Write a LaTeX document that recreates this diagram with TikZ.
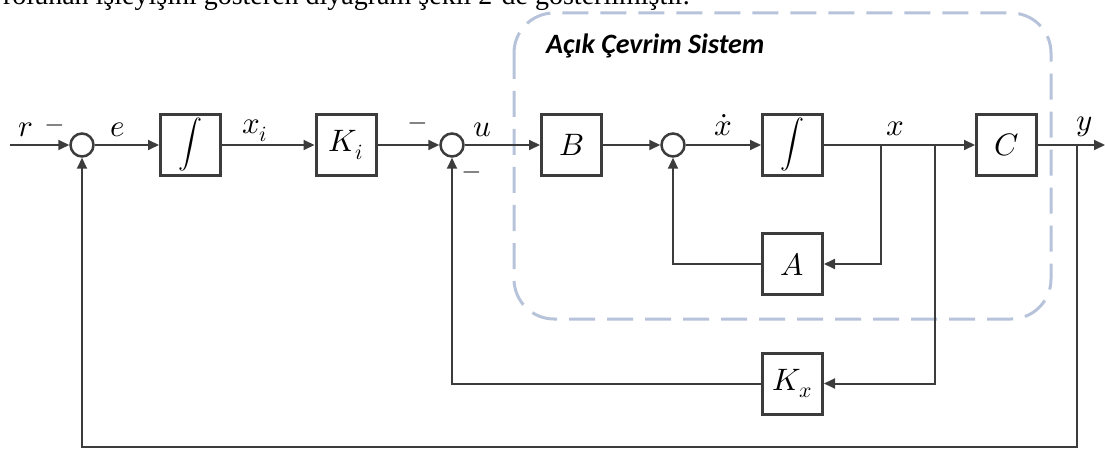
\documentclass[tikz,border=0pt]{standalone}
\usepackage{fontspec}
\usepackage{unicode-math}
\setmathfont{Latin Modern Math}
\newfontfamily\titlefont{Carlito}
\newfontfamily\bodyfont{Liberation Serif}
\usetikzlibrary{arrows.meta, positioning}
\definecolor{linegray}{HTML}{3C3C3C}
\definecolor{dashblue}{HTML}{B7C3DA}
\newcommand\intsym{{\fontsize{24}{28}\selectfont$\displaystyle\int$}}

\begin{document}
\begin{tikzpicture}[x=1pt, y=-1pt,
      every node/.style={text=black},
      blk/.style={draw=linegray, line width=3pt, minimum width=60pt, minimum height=61pt,
                  inner sep=0pt, fill=white, font=\fontsize{31}{36}\selectfont},
      sumnode/.style={draw=linegray, line width=2.5pt, circle, minimum size=23pt, inner sep=0pt},
      arr/.style={-{Triangle[length=11pt, width=10pt]}, line width=2pt, draw=linegray},
      lbl/.style={font=\fontsize{31}{36}\selectfont, inner sep=0pt, anchor=base},
      sgn/.style={font=\fontsize{24}{28}\selectfont, inner sep=0pt}
    ]
    \useasboundingbox (0,0) rectangle (1105,449);
    % cut-off sentence at the top
    \begin{scope}
      \clip (0,0) rectangle (1105,449);
      \node[font=\bodyfont\fontsize{28}{32}\selectfont, anchor=base east, inner sep=0pt] (toptext)
        at (690,5) {rolunan işleyişini gösteren diyagram şekil 2’de gösterilmiştir.};
    \end{scope}
    % open loop system frame
    \draw[draw=dashblue, line width=3pt, dash pattern=on 26pt off 12pt, rounded corners=40pt]
      (514,13) rectangle (1051,319);
    \node[font=\titlefont\bfseries\itshape\fontsize{28}{32}\selectfont, anchor=base west, inner sep=0pt]
      (systitle) at (546,54) {Açık Çevrim Sistem};

    % forward path
    \coordinate (rin) at (10,145);
    \node[sumnode] (s1) at (82,145) {};
    \node[blk] (int1) at (190.5,145) {\intsym};
    \node[blk] (Ki) at (346,145) {$K_i$};
    \node[sumnode] (s2) at (452,145) {};
    \node[blk] (B) at (571.5,145) {$B$};
    \node[sumnode] (s3) at (673,145) {};
    \node[blk] (int2) at (792.5,145) {\intsym};
    \node[blk] (C) at (1006.5,145) {$C$};
    \coordinate (yout) at (1105,145);
    % feedback blocks
    \node[blk] (A) at (792.5,264) {$A$};
    \node[blk] (Kx) at (792.5,383.5) {$K_x$};
    \coordinate (bA) at (881,145);
    \coordinate (bK) at (935,145);
    \coordinate (bY) at (1077,145);
    \coordinate (ycorner) at (1077,447);

    % signal labels
    \node[lbl] (rlbl) at (26,137) {$r$};
    \node[sgn] (rsgn) at (55,128) {$-$};
    \node[lbl] (elbl) at (118,137) {$e$};
    \node[lbl] (xilbl) at (255,134) {$x_i$};
    \node[sgn] (kisgn) at (418,126) {$-$};
    \node[lbl] (ulbl) at (482,137) {$u$};
    \node[sgn] (kxsgn) at (472,175) {$-$};
    \node[lbl] (xdlbl) at (723,136) {$\dot{x}$};
    \node[lbl] (xlbl) at (895,136) {$x$};
    \node[lbl] (ylbl) at (1085,131) {$y$};

    \draw[arr] (rin) -- (s1);
    \draw[arr] (s1) -- (int1);
    \draw[arr] (int1) -- (Ki);
    \draw[arr] (Ki) -- (s2);
    \draw[arr] (s2) -- (B);
    \draw[arr] (B) -- (s3);
    \draw[arr] (s3) -- (int2);
    \draw[arr] (int2) -- (C);
    \draw[arr] (C) -- (yout);
    \draw[arr] (bA) |- (A);
    \draw[arr] (A) -| (s3);
    \draw[arr] (bK) |- (Kx);
    \draw[arr] (Kx) -| (s2);
    \draw[arr] (bY) -- (ycorner) -| (s1);
  \end{tikzpicture}
\end{document}
